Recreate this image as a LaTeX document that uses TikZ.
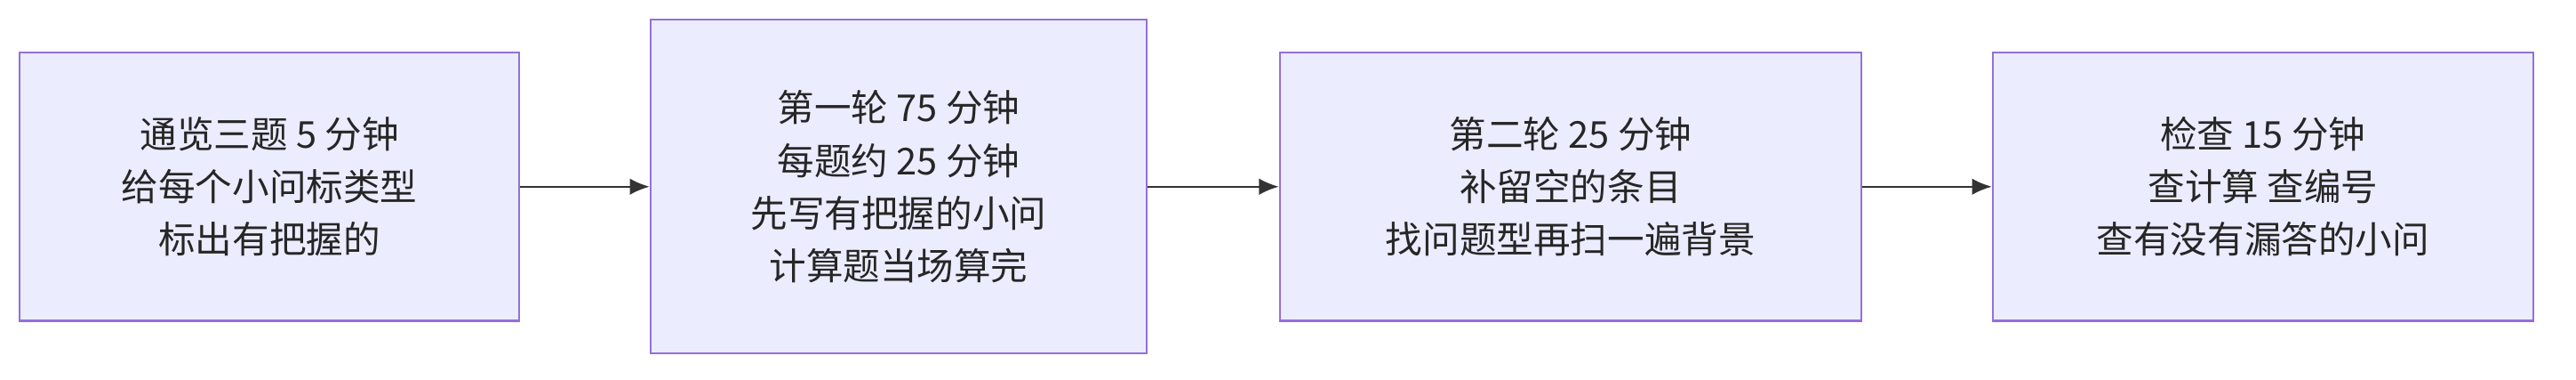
\documentclass[tikz,border=0pt]{standalone}
\usepackage{fontspec}
\setmainfont{Noto Sans CJK SC}
\usetikzlibrary{positioning, arrows.meta}
\definecolor{boxfill}{HTML}{ECECFF}
\definecolor{boxline}{HTML}{9370DB}
\definecolor{linkcol}{HTML}{333333}

\begin{document}
\begin{tikzpicture}[
            x=1pt, y=1pt,
            phase/.style={draw=boxline, fill=boxfill, line width=1.2pt,
                align=center, font=\fontsize{22.5}{32}\selectfont,
                text=black!85, inner sep=0pt},
            link/.style={draw=linkcol, line width=1.2pt, -{Latex[length=12pt, width=10pt]}},
        ]
            \useasboundingbox (0,0) rectangle (1568,231);
            \node[phase, minimum width=304pt, minimum height=163pt] (scan) at (164,117.5)
                {通览三题 5 分钟\\给每个小问标类型\\标出有把握的};
            \node[phase, minimum width=302pt, minimum height=203pt] (first) at (547,117.5)
                {第一轮 75 分钟\\每题约 25 分钟\\先写有把握的小问\\计算题当场算完};
            \node[phase, minimum width=354pt, minimum height=163pt] (second) at (956,117.5)
                {第二轮 25 分钟\\补留空的条目\\找问题型再扫一遍背景};
            \node[phase, minimum width=329pt, minimum height=163pt] (check) at (1377.5,117.5)
                {检查 15 分钟\\查计算 查编号\\查有没有漏答的小问};
            \draw[link] (scan) -- (first);
            \draw[link] (first) -- (second);
            \draw[link] (second) -- (check);
        \end{tikzpicture}
\end{document}
